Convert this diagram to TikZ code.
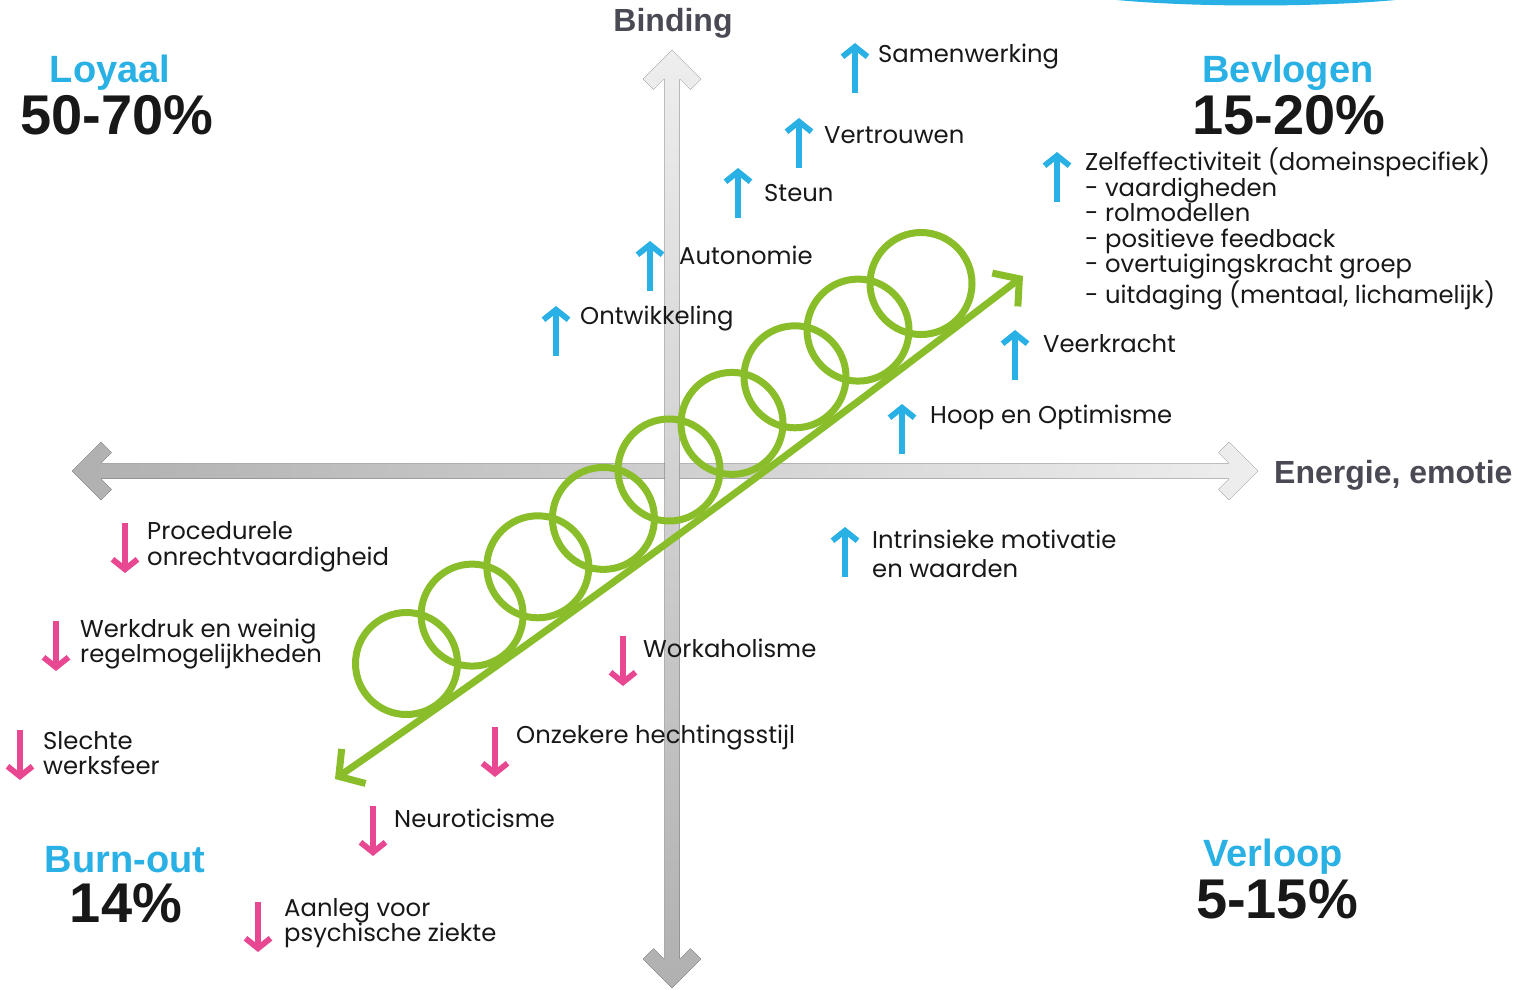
\documentclass[tikz,border=0pt]{standalone}
\usepackage{fontspec}
\setmainfont{Poppins}
\newfontfamily\headfont{Liberation Sans}
\usetikzlibrary{arrows.meta}

\definecolor{cueblue}{RGB}{41,176,228}
\definecolor{cuepink}{RGB}{232,72,146}
\definecolor{coilgreen}{RGB}{137,190,42}
\definecolor{axisdark}{RGB}{176,176,176}
\definecolor{axislight}{RGB}{238,238,238}
\definecolor{axisink}{RGB}{74,74,84}
\definecolor{bodyink}{RGB}{24,24,24}

\tikzset{
  coiltip/.tip={Straight Barb[length=18pt,width=42pt]},
  cuetip/.tip={Straight Barb[length=10pt,width=25pt]},
  itemtext/.style={anchor=west, inner sep=0pt, align=left, text=bodyink,
    font=\fontsize{24.3}{25.5}\selectfont},
  upcuestyle/.style={draw=cueblue, line width=5.8pt, line join=miter, -{cuetip}},
  downcuestyle/.style={draw=cuepink, line width=5.8pt, line join=miter, -{cuetip}},
  coil/.style={draw=coilgreen, line width=7pt},
  quadname/.style={anchor=base, inner sep=0pt, text=cueblue,
    font=\headfont\bfseries\fontsize{38}{40}\selectfont},
  quadshare/.style={anchor=base, inner sep=0pt, text=bodyink,
    font=\headfont\bfseries\fontsize{56}{58}\selectfont},
  axistext/.style={inner sep=0pt, text=axisink,
    font=\headfont\bfseries\fontsize{32}{34}\selectfont},
}

% arrow cue: name, x, top y (50pt long)
\newcommand\upcue[3]{%
  \coordinate (#1-tail) at (#2,#3+50);
  \coordinate (#1-tip) at (#2,#3);
  \draw[upcuestyle] (#1-tail) -- (#1-tip);}
\newcommand\downcue[3]{%
  \coordinate (#1-tail) at (#2,#3);
  \coordinate (#1-tip) at (#2,#3+50);
  \draw[downcuestyle] (#1-tail) -- (#1-tip);}

\begin{document}
\begin{tikzpicture}[x=1pt,y=-1pt]
\useasboundingbox (0,0) rectangle (1521,990);
\fill[white] (0,0) rectangle (1521,990);

% blue band edge at the top
\fill[cueblue] (1098,-2) .. controls (1180,8) and (1330,8) .. (1415,-2) -- cycle;

% horizontal axis (double arrow)
\fill[left color=axisdark, right color=axislight]
  (72,471) -- (101,442) -- (111.6,452.6) -- (100.7,463.5) -- (1229.3,463.5)
  -- (1218.4,452.6) -- (1229,442) -- (1258,471) -- (1229,500) -- (1218.4,489.4)
  -- (1229.3,478.5) -- (100.7,478.5) -- (111.6,489.4) -- (101,500) -- cycle;
% vertical axis (double arrow)
\fill[top color=axislight, bottom color=axisdark]
  (672,50) -- (701,79) -- (690.4,89.6) -- (679.5,78.7) -- (679.5,959.3)
  -- (690.4,948.4) -- (701,959) -- (672,988) -- (643,959) -- (653.6,948.4)
  -- (664.5,959.3) -- (664.5,78.7) -- (653.6,89.6) -- (643,79) -- cycle;

\node[axistext, anchor=base] (binding) at (673,32) {Binding};
\node[axistext, anchor=base west] (energie) at (1274,483) {Energie, emotie};

% quadrant names and shares
\node[quadname] (loyaal) at (110,82) {Loyaal};
\node[quadshare] (loyaalpct) at (117,134) {50-70\%};
\node[quadname] (bevlogen) at (1288,82) {Bevlogen};
\node[quadshare] (bevlogenpct) at (1289,134) {15-20\%};
\node[quadname] (burnout) at (125,872) {Burn-out};
\node[quadshare] (burnoutpct) at (126,922) {14\%};
\node[quadname] (verloop) at (1273,866) {Verloop};
\node[quadshare] (verlooppct) at (1277,918) {5-15\%};

% the coil: loops riding on a gently bowed run with tips at both ends
\foreach \cx/\cy [count=\k] in {406.5/663.5, 472.1/615.1, 537.8/566.8,
    603.4/518.4, 669/470, 732/423.4, 795/376.8, 858/330.1, 921/283.5} {
  \coordinate (loop\k) at (\cx,\cy);
  \draw[coil] (loop\k) circle[radius=51];
}
\coordinate (coilin) at (335,779);
\coordinate (coilout) at (1023,276);
\coordinate (coilc1) at (570,617);
\coordinate (coilc2) at (799,448);
\draw[coil, {coiltip}-{coiltip}]
  (coilin) .. controls (coilc1) and (coilc2) .. (coilout);

% factors that raise engagement
\upcue{sam}{855}{43}
\node[itemtext] (samenwerking) at (878,57) {Samenwerking};
\upcue{ver}{799}{118}
\node[itemtext] (vertrouwen) at (824,135) {Vertrouwen};
\upcue{ste}{738}{168}
\node[itemtext] (steun) at (764,193) {Steun};
\upcue{aut}{650}{241}
\node[itemtext] (autonomie) at (679,255) {Autonomie};
\upcue{ont}{556}{306}
\node[itemtext] (ontwikkeling) at (580,319) {Ontwikkeling};
\upcue{zel}{1057}{152}
\node[itemtext] (zelfeffectiviteit) at (1085,229) {Zelfeffectiviteit (domeinspecifiek)\\
  - vaardigheden\\- rolmodellen\\- positieve feedback\\- overtuigingskracht groep\\
  - uitdaging (mentaal, lichamelijk)};
\upcue{vee}{1015}{330}
\node[itemtext] (veerkracht) at (1043,344) {Veerkracht};
\upcue{hoo}{902}{404}
\node[itemtext] (hoop) at (930,417) {Hoop en Optimisme};
\upcue{int}{845}{527}
\node[itemtext] (intrinsiek) at (872,554) {Intrinsieke motivatie\\[4pt]en waarden};

% factors that lower engagement
\downcue{pro}{125}{523}
\node[itemtext] (procedurele) at (147,547) {Procedurele\\onrechtvaardigheid};
\downcue{wer}{56}{621}
\node[itemtext] (werkdruk) at (80,644) {Werkdruk en weinig\\regelmogelijkheden};
\downcue{sle}{20}{730}
\node[itemtext] (slechte) at (43,753) {Slechte\\werksfeer};
\downcue{wor}{623}{636}
\node[itemtext] (workaholisme) at (643,648) {Workaholisme};
\downcue{onz}{495}{727}
\node[itemtext] (onzeker) at (516,738) {Onzekere hechtingsstijl};
\downcue{neu}{373}{806}
\node[itemtext] (neuroticisme) at (394,818) {Neuroticisme};
\downcue{aan}{258}{902}
\node[itemtext] (aanleg) at (284,923) {Aanleg voor\\psychische ziekte};
\end{tikzpicture}
\end{document}
